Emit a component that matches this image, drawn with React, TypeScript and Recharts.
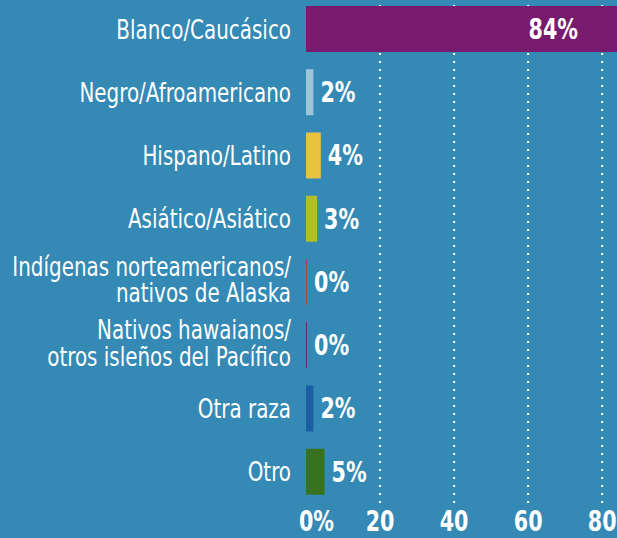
import { BarChart, Bar, XAxis, YAxis, CartesianGrid, Cell, LabelList } from 'recharts';

const categories = [
  'Blanco/Caucásico',
  'Negro/Afroamericano',
  'Hispano/Latino',
  'Asiático/Asiático',
  'Indígenas norteamericanos/\nnativos de Alaska',
  'Nativos hawaianos/\notros isleños del Pacífico',
  'Otra raza',
  'Otro',
];
const shares = [84, 2, 4, 3, 0, 0, 2, 5];
const barColors = ['#781b6e', '#9ec4d9', '#e9c242', '#b3be25', '#a8474f', '#6b2b57', '#1b5ea6', '#38721c'];
const axisTicks = [0, 20, 40, 60, 80];
const axisMax = 84;

const data = categories.map((name, i) => ({ name, share: shares[i] }));

const BG = '#3489b5';
const FONT = '"DejaVu Sans Condensed", "DejaVu Sans", sans-serif';
// no condensed face installed, so squeeze the glyphs horizontally
const SQUEEZE = 0.82;

// category names, right aligned, split on the line break
function CategoryTick({ x, y, payload }: any) {
  const lines = String(payload.value).split('\n');
  const first = lines.length === 1 ? 10 : -6;
  return (
    <text
      transform={`translate(${x - 13} ${y}) scale(${SQUEEZE} 1)`}
      textAnchor="end"
      fill="#fff"
      fontSize={27}
      fontFamily={FONT}
    >
      {lines.map((l, i) => (
        <tspan key={i} x={0} dy={i === 0 ? first : 26.7}>
          {l}
        </tspan>
      ))}
    </text>
  );
}

// bottom axis: first tick carries the % sign
function ValueTick({ x, y, payload }: any) {
  const v = payload.value;
  return (
    <text
      transform={`translate(${v === 0 ? x - 7 : x} ${y + 16}) scale(${SQUEEZE} 1)`}
      textAnchor={v === 0 ? 'start' : 'middle'}
      dominantBaseline="central"
      fill="#fff"
      fontWeight="bold"
      fontSize={28}
      fontFamily={FONT}
    >
      {v === 0 ? '0%' : v}
    </text>
  );
}

function ShareLabel({ x, y, width, height, value }: any) {
  const inside = value > 50;
  return (
    <text
      transform={`translate(${inside ? x + width - 39 : x + width + 7} ${y + height / 2}) scale(${SQUEEZE} 1)`}
      textAnchor={inside ? 'end' : 'start'}
      dominantBaseline="central"
      fill="#fff"
      fontWeight="bold"
      fontSize={28}
      fontFamily={FONT}
    >
      {value}%
    </text>
  );
}

export default function App() {
  return (
    <div style={{ position: 'fixed', left: 0, top: 0, width: 617, height: 538, background: BG, overflow: 'hidden' }}>
      <BarChart
        width={617}
        height={541}
        data={data}
        layout="vertical"
        margin={{ top: 0, right: 0, bottom: 0, left: 0 }}
        style={{ marginTop: -3 }}
      >
        <CartesianGrid
          horizontal={false}
          stroke="#ffffff"
          strokeWidth={2}
          strokeDasharray="2 6"
          verticalCoordinatesGenerator={({ offset }: any) =>
            axisTicks.filter((t) => t > 0).map((t) => offset.left + (t / axisMax) * offset.width)
          }
        />
        <XAxis
          type="number"
          domain={[0, axisMax]}
          ticks={axisTicks}
          height={35}
          axisLine={false}
          tickLine={false}
          tickSize={0}
          tick={<ValueTick />}
          interval={0}
        />
        <YAxis
          type="category"
          dataKey="name"
          width={306}
          axisLine={false}
          tickLine={false}
          tickSize={0}
          tick={<CategoryTick />}
          interval={0}
        />
        <Bar dataKey="share" barSize={46} minPointSize={1} isAnimationActive={false}>
          {data.map((d, i) => (
            <Cell key={d.name} fill={barColors[i]} />
          ))}
          <LabelList dataKey="share" content={<ShareLabel />} />
        </Bar>
      </BarChart>
    </div>
  );
}
